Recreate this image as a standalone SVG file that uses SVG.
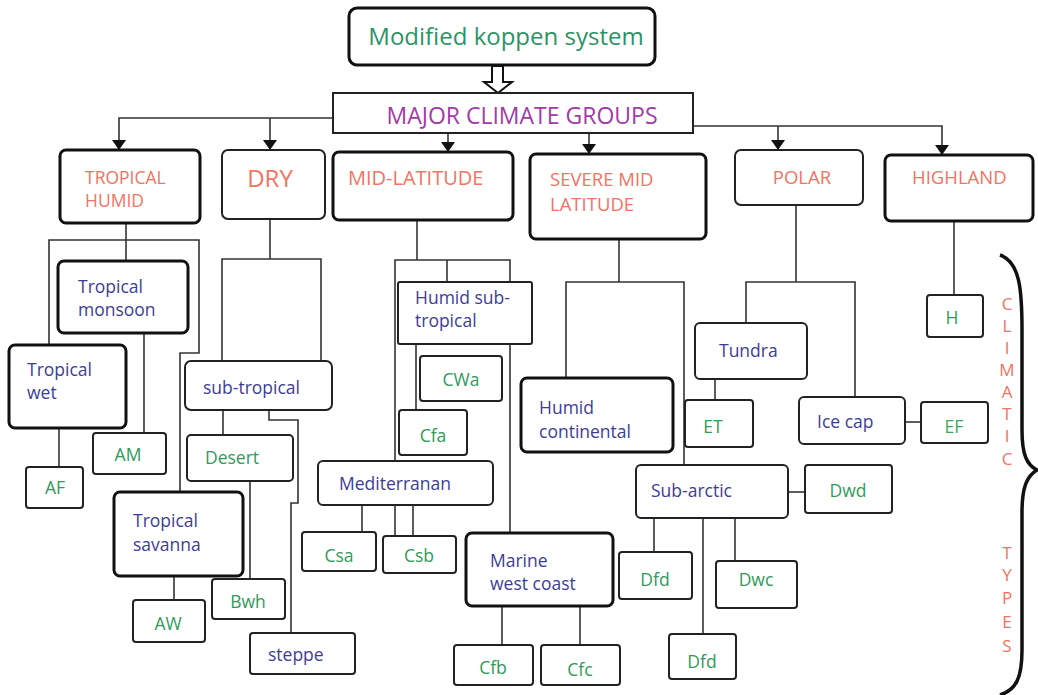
<svg xmlns="http://www.w3.org/2000/svg" width="1038" height="695" viewBox="0 0 1038 695">
  <defs>
    <style>
      .box { fill: #fff; stroke: #222; stroke-width: 2; }
      .bold { fill: #fff; stroke: #111; stroke-width: 3; }
      .wire { fill: none; stroke: #333; stroke-width: 1.6; }
      text { font-family: "Open Sans", "Noto Sans", "DejaVu Sans", sans-serif; }
      .title { fill: #2b9464; font-size: 24px; }
      .major { fill: #a23aa8; font-size: 23px; }
      .group { fill: #f2735f; font-size: 18.5px; }
      .kind { fill: #3d3d96; font-size: 17.5px; }
      .code { fill: #2f9a5a; font-size: 17.5px; }
      .side { fill: #f2735f; font-size: 17px; text-anchor: middle; }
    </style>
    <marker id="head" viewBox="0 0 10 14" refX="10" refY="7" markerWidth="10" markerHeight="14" markerUnits="userSpaceOnUse" orient="auto">
      <path d="M0,0 L10,7 L0,14 Z" fill="#111"/>
    </marker>
  </defs>
  <rect width="1038" height="695" fill="#fff"/>

  <!-- connectors -->
  <g id="connectors" class="wire">
    <!-- hollow arrow from the title to the groups box -->
    <polygon points="492,66 503,66 503,82 512,82 498,93 484,82 492,82" fill="#fff" stroke="#111" stroke-width="2"/>
    <!-- groups box to the six climate groups -->
    <path d="M333,118 H119 V150" marker-end="url(#head)"/>
    <path d="M270,118 V150" marker-end="url(#head)"/>
    <path d="M448,133 V152" marker-end="url(#head)"/>
    <path d="M589,133 V154" marker-end="url(#head)"/>
    <path d="M693,126 H942 V155" marker-end="url(#head)"/>
    <path d="M778,126 V150" marker-end="url(#head)"/>

    <!-- tropical humid -->
    <path d="M126,223 V261"/>
    <path d="M49,345 V240 H199 V353 H180 V492"/>
    <path d="M144,333 V433"/>
    <path d="M59,428 V467"/>
    <path d="M174,576 V600"/>

    <!-- dry -->
    <path d="M270,219 V259"/>
    <path d="M222,361 V259 H321 V361"/>
    <path d="M223,410 V435"/>
    <path d="M269,410 V420 H298 V503 H291 V633"/>
    <path d="M250,481 V579"/>

    <!-- mid-latitude -->
    <path d="M417,220 V260"/>
    <path d="M395,460 V260 H510 V282"/>
    <path d="M447,260 V282"/>
    <path d="M510,344 V533"/>
    <path d="M416,344 V410"/>
    <path d="M362,505 V532"/>
    <path d="M395,505 V536"/>
    <path d="M413,505 V536"/>
    <path d="M502,606 V645"/>
    <path d="M580,606 V645"/>

    <!-- severe mid latitude -->
    <path d="M619,239 V282"/>
    <path d="M566,378 V282 H684 V465"/>

    <!-- polar -->
    <path d="M796,205 V282"/>
    <path d="M746,323 V282 H855 V397"/>
    <path d="M715,379 V400"/>
    <path d="M905,422 H921"/>
    <path d="M788,492 H805"/>
    <path d="M654,518 V552"/>
    <path d="M703,518 V634"/>
    <path d="M735,518 V561"/>

    <!-- highland -->
    <path d="M954,221 V295"/>
  </g>

  <!-- title and groups box -->
  <g id="title">
    <rect class="bold" x="349" y="8" width="306" height="57" rx="8"/>
    <text class="title" x="506" y="45" text-anchor="middle">Modified koppen system</text>
  </g>
  <g id="major-groups">
    <rect class="box" x="333" y="93" width="360" height="40"/>
    <text class="major" x="522" y="124" text-anchor="middle">MAJOR CLIMATE GROUPS</text>
  </g>

  <!-- climate groups -->
  <g id="tropical-humid">
    <rect class="bold" x="60" y="150" width="140" height="73" rx="6"/>
    <text class="group" x="85" y="184" style="font-size:17.5px">TROPICAL</text>
    <text class="group" x="85" y="207" style="font-size:17.5px">HUMID</text>
  </g>
  <g id="dry">
    <rect class="box" x="222" y="150" width="103" height="69" rx="6"/>
    <text class="group" x="270" y="187" style="font-size:24px" text-anchor="middle">DRY</text>
  </g>
  <g id="mid-latitude">
    <rect class="bold" x="333" y="152" width="180" height="68" rx="6"/>
    <text class="group" x="348" y="185" style="font-size:20px">MID-LATITUDE</text>
  </g>
  <g id="severe-mid-latitude">
    <rect class="bold" x="530" y="154" width="176" height="85" rx="6"/>
    <text class="group" x="550" y="186">SEVERE MID</text>
    <text class="group" x="550" y="211">LATITUDE</text>
  </g>
  <g id="polar">
    <rect class="box" x="735" y="150" width="128" height="55" rx="6"/>
    <text class="group" x="802" y="184" text-anchor="middle">POLAR</text>
  </g>
  <g id="highland">
    <rect class="bold" x="885" y="155" width="148" height="66" rx="6"/>
    <text class="group" x="912" y="184">HIGHLAND</text>
  </g>

  <!-- tropical humid types -->
  <g id="tropical-monsoon">
    <rect class="bold" x="58" y="261" width="130" height="72" rx="6"/>
    <text class="kind" x="78" y="293">Tropical</text>
    <text class="kind" x="78" y="316">monsoon</text>
  </g>
  <g id="tropical-wet">
    <rect class="bold" x="9" y="345" width="117" height="83" rx="6"/>
    <text class="kind" x="27" y="376">Tropical</text>
    <text class="kind" x="27" y="399">wet</text>
  </g>
  <g id="af">
    <rect class="box" x="26" y="467" width="57" height="41" rx="3"/>
    <text class="code" x="55" y="494" text-anchor="middle">AF</text>
  </g>
  <g id="am">
    <rect class="box" x="93" y="433" width="73" height="41" rx="3"/>
    <text class="code" x="128" y="461" text-anchor="middle">AM</text>
  </g>
  <g id="tropical-savanna">
    <rect class="bold" x="114" y="492" width="129" height="84" rx="6"/>
    <text class="kind" x="133" y="527">Tropical</text>
    <text class="kind" x="133" y="551">savanna</text>
  </g>
  <g id="aw">
    <rect class="box" x="133" y="600" width="72" height="42" rx="3"/>
    <text class="code" x="168" y="630" text-anchor="middle">AW</text>
  </g>

  <!-- dry types -->
  <g id="sub-tropical">
    <rect class="box" x="185" y="361" width="147" height="49" rx="6"/>
    <text class="kind" x="203" y="394">sub-tropical</text>
  </g>
  <g id="desert">
    <rect class="box" x="187" y="435" width="106" height="46" rx="4"/>
    <text class="code" x="205" y="464">Desert</text>
  </g>
  <g id="bwh">
    <rect class="box" x="212" y="579" width="73" height="40" rx="3"/>
    <text class="code" x="248" y="608" text-anchor="middle">Bwh</text>
  </g>
  <g id="steppe">
    <rect class="box" x="250" y="633" width="105" height="41" rx="3"/>
    <text class="kind" x="268" y="661">steppe</text>
  </g>

  <!-- mid-latitude types -->
  <g id="humid-sub-tropical">
    <rect class="box" x="398" y="282" width="134" height="62" rx="2"/>
    <text class="kind" x="415" y="304">Humid sub-</text>
    <text class="kind" x="415" y="327">tropical</text>
  </g>
  <g id="cwa">
    <rect class="box" x="420" y="356" width="82" height="45" rx="3"/>
    <text class="code" x="461" y="386" text-anchor="middle">CWa</text>
  </g>
  <g id="cfa">
    <rect class="box" x="399" y="410" width="68" height="45" rx="3"/>
    <text class="code" x="433" y="442" text-anchor="middle">Cfa</text>
  </g>
  <g id="mediterranan">
    <rect class="box" x="318" y="461" width="175" height="44" rx="5"/>
    <text class="kind" x="339" y="490">Mediterranan</text>
  </g>
  <g id="csa">
    <rect class="box" x="302" y="532" width="74" height="39" rx="3"/>
    <text class="code" x="339" y="562" text-anchor="middle">Csa</text>
  </g>
  <g id="csb">
    <rect class="box" x="383" y="536" width="73" height="37" rx="3"/>
    <text class="code" x="419" y="562" text-anchor="middle">Csb</text>
  </g>
  <g id="marine-west-coast">
    <rect class="bold" x="466" y="533" width="147" height="73" rx="6"/>
    <text class="kind" x="490" y="567">Marine</text>
    <text class="kind" x="490" y="590">west coast</text>
  </g>
  <g id="cfb">
    <rect class="box" x="454" y="645" width="79" height="40" rx="3"/>
    <text class="code" x="493" y="674" text-anchor="middle">Cfb</text>
  </g>
  <g id="cfc">
    <rect class="box" x="541" y="645" width="79" height="40" rx="3"/>
    <text class="code" x="580" y="676" text-anchor="middle">Cfc</text>
  </g>

  <!-- severe mid latitude and polar types -->
  <g id="humid-continental">
    <rect class="bold" x="521" y="378" width="152" height="74" rx="6"/>
    <text class="kind" x="539" y="414">Humid</text>
    <text class="kind" x="539" y="438">continental</text>
  </g>
  <g id="tundra">
    <rect class="box" x="695" y="323" width="112" height="56" rx="5"/>
    <text class="kind" x="719" y="357">Tundra</text>
  </g>
  <g id="et">
    <rect class="box" x="685" y="400" width="68" height="47" rx="3"/>
    <text class="code" x="713" y="433" text-anchor="middle">ET</text>
  </g>
  <g id="ice-cap">
    <rect class="box" x="799" y="397" width="106" height="47" rx="5"/>
    <text class="kind" x="817" y="428">Ice cap</text>
  </g>
  <g id="ef">
    <rect class="box" x="921" y="402" width="67" height="41" rx="3"/>
    <text class="code" x="954" y="433" text-anchor="middle" style="fill:#3aa85a">EF</text>
  </g>
  <g id="sub-arctic">
    <rect class="box" x="636" y="465" width="152" height="53" rx="5"/>
    <text class="kind" x="651" y="497">Sub-arctic</text>
  </g>
  <g id="dwd">
    <rect class="box" x="805" y="465" width="87" height="48" rx="3"/>
    <text class="code" x="848" y="497" text-anchor="middle">Dwd</text>
  </g>
  <g id="dfd-1">
    <rect class="box" x="619" y="552" width="73" height="47" rx="3"/>
    <text class="code" x="655" y="586" text-anchor="middle">Dfd</text>
  </g>
  <g id="dwc">
    <rect class="box" x="716" y="561" width="81" height="47" rx="3"/>
    <text class="code" x="756" y="586" text-anchor="middle">Dwc</text>
  </g>
  <g id="dfd-2">
    <rect class="box" x="669" y="634" width="67" height="45" rx="3"/>
    <text class="code" x="702" y="668" text-anchor="middle">Dfd</text>
  </g>

  <!-- highland type -->
  <g id="h">
    <rect class="box" x="927" y="295" width="56" height="42" rx="3"/>
    <text class="code" x="952" y="324" text-anchor="middle">H</text>
  </g>

  <!-- side brace and label -->
  <g id="climatic-types">
    <path d="M1000,255 C1020,262 1022,290 1022,330 L1022,430 C1022,455 1027,465 1037,470 C1027,476 1022,487 1022,512 L1022,650 C1022,678 1016,690 1000,695" fill="none" stroke="#111" stroke-width="3.5"/>
    <text class="side" x="1007" y="310">C</text>
    <text class="side" x="1007" y="332">L</text>
    <text class="side" x="1007" y="354">I</text>
    <text class="side" x="1007" y="376">M</text>
    <text class="side" x="1007" y="398">A</text>
    <text class="side" x="1007" y="420">T</text>
    <text class="side" x="1007" y="442">I</text>
    <text class="side" x="1007" y="465">C</text>
    <text class="side" x="1007" y="559">T</text>
    <text class="side" x="1007" y="581">Y</text>
    <text class="side" x="1007" y="604">P</text>
    <text class="side" x="1007" y="628">E</text>
    <text class="side" x="1007" y="652">S</text>
  </g>
</svg>
